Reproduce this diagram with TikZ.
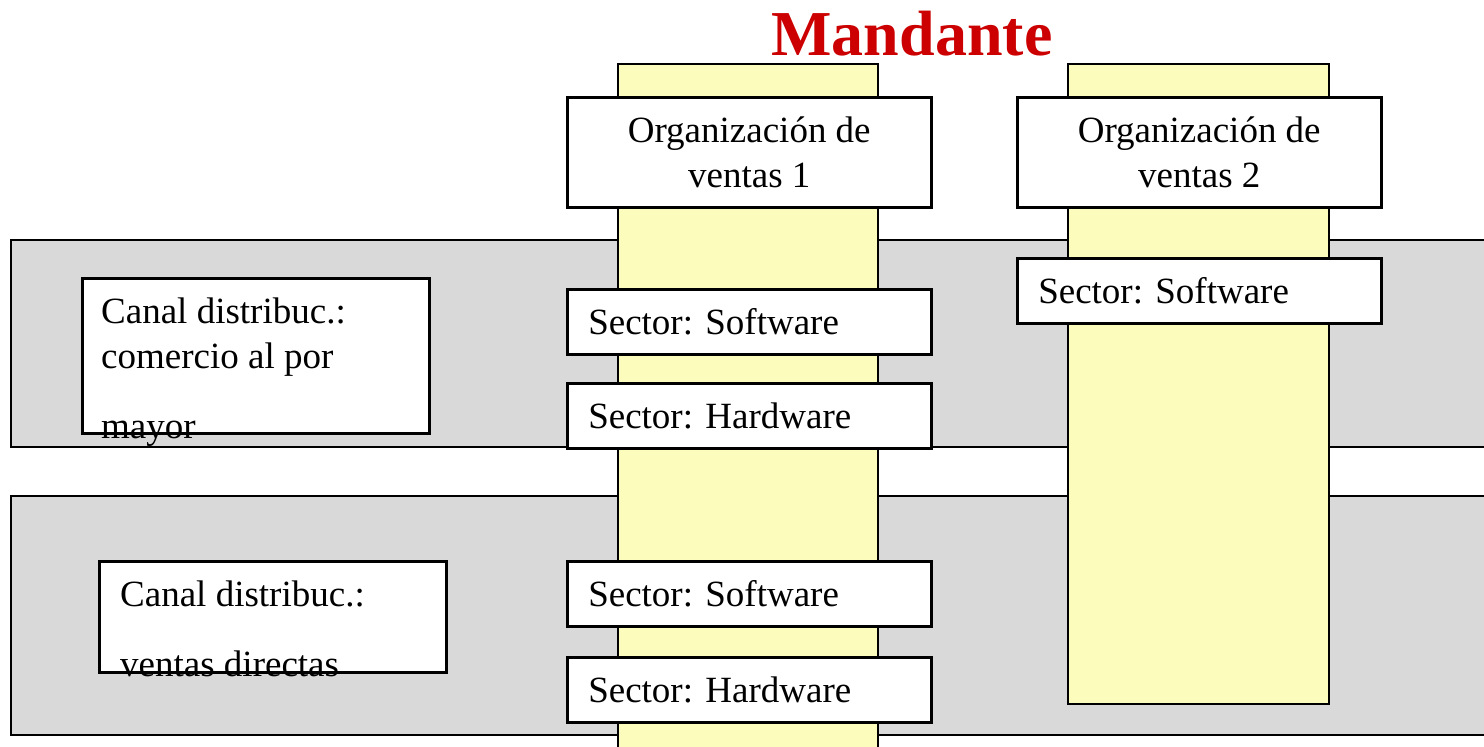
\documentclass[tikz,border=0pt]{standalone}
\usepackage{fontspec}
\setmainfont{Liberation Serif}
\definecolor{bandgrey}{RGB}{217,217,217}
\definecolor{colyellow}{RGB}{252,252,188}
\definecolor{titlered}{RGB}{204,0,0}
\frenchspacing
\begin{document}
\begin{tikzpicture}[x=1pt,y=-1pt,
  txt/.style={font=\fontsize{37}{45}\selectfont\frenchspacing, inner sep=0pt},
  band/.style={draw=black, line width=2.5pt, fill=bandgrey},
  column/.style={draw=black, line width=2.5pt, fill=colyellow},
  wbox/.style={draw=black, line width=2.5pt, fill=white, rectangle, inner sep=0pt},
  orgbox/.style={wbox, txt, minimum width=364pt, minimum height=110pt, align=center, anchor=north west},
  secbox/.style={wbox, txt, text width=322pt, inner xsep=21pt, inner ysep=0pt, text height=45pt, text depth=20pt, align=left, anchor=north west},
  canalbox/.style={wbox, minimum width=347pt, anchor=north west},
]
\useasboundingbox (0,0) rectangle (1484,747);
\clip (0,0) rectangle (1484,747);
\fill[white] (0,0) rectangle (1484,747);
\draw[band] (11,240) rectangle (1500,447);
\draw[band] (11,496) rectangle (1500,735);
\draw[column] (618,64) rectangle (878,760);
\draw[column] (1068,64) rectangle (1329,704);
\node[orgbox] (org1) at (566,96) {Organización de\\ventas 1};
\node[orgbox] (org2) at (1016,96) {Organización de\\ventas 2};
\node[secbox] (sw1) at (566,288) {Sector: Software};
\node[secbox] (hw1) at (566,382) {Sector: Hardware};
\node[secbox] (sw2) at (1016,257) {Sector: Software};
\node[secbox] (sw3) at (566,560) {Sector: Software};
\node[secbox] (hw3) at (566,656) {Sector: Hardware};
\node[canalbox, minimum height=155pt] (c1) at (81,277) {};
\node[txt, align=left, anchor=west] (c1t) at (101,372) {Canal distribuc.:\\comercio al por\\[25pt]mayor};
\node[canalbox, minimum height=111pt] (c2) at (98,560) {};
\node[txt, align=left, anchor=west] (c2t) at (120,629) {Canal distribuc.:\\[25pt]ventas directas};
\node[font=\fontsize{64}{70}\selectfont\bfseries, text=titlered, anchor=base, inner sep=0pt] (title) at (912,55) {Mandante};
\end{tikzpicture}
\end{document}
